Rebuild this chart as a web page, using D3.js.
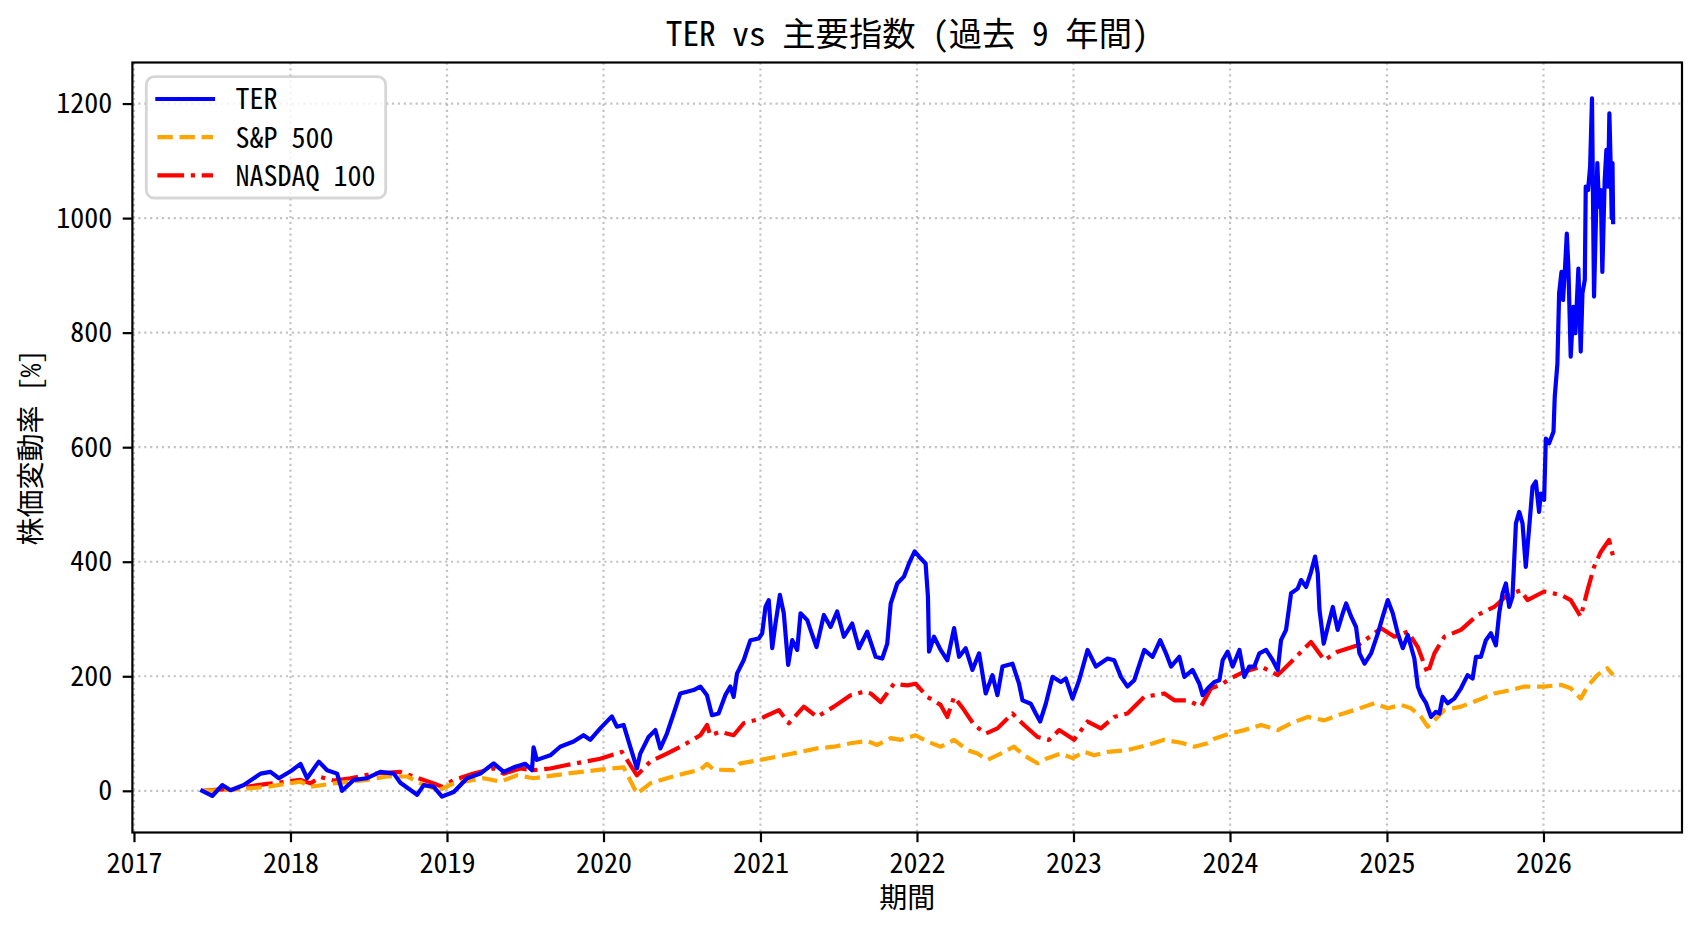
<!DOCTYPE html>
<html>
<head>
<meta charset="utf-8">
<script src="https://cdn.jsdelivr.net/npm/d3@7"></script>
<style>
  html, body { margin: 0; padding: 0; background: #fff; }
  svg text {
    font-family: "Noto Sans CJK JP", "Noto Sans", sans-serif;
    font-feature-settings: "hwid" 1;
  }
</style>
</head>
<body>
<svg id="chart"></svg>
<script>
// ── Data (decimal year, % change since start) ───────────────────────────────
const terSeries = [
  [2017.436, 0], [2017.500, -9], [2017.564, 10], [2017.617, 1], [2017.702, 10],
  [2017.809, 30], [2017.872, 33], [2017.926, 22], [2018.011, 36], [2018.064, 47],
  [2018.106, 22], [2018.181, 51], [2018.234, 36], [2018.298, 30], [2018.330, 0],
  [2018.404, 19], [2018.489, 22], [2018.574, 33], [2018.660, 30], [2018.702, 14],
  [2018.809, -7], [2018.851, 10], [2018.915, 7], [2018.968, -10], [2019.043, -2],
  [2019.128, 22], [2019.213, 30], [2019.298, 48], [2019.362, 33], [2019.436, 42],
  [2019.500, 47], [2019.543, 36], [2019.553, 76], [2019.574, 54], [2019.660, 62],
  [2019.723, 77], [2019.809, 86], [2019.872, 97], [2019.915, 89], [2019.979, 109],
  [2020.053, 130], [2020.085, 112], [2020.128, 115], [2020.170, 77], [2020.213, 39],
  [2020.234, 65], [2020.287, 94], [2020.330, 106], [2020.362, 74], [2020.404, 100],
  [2020.447, 135], [2020.489, 170], [2020.574, 176], [2020.617, 182], [2020.659, 167],
  [2020.691, 132], [2020.733, 135], [2020.776, 167], [2020.808, 182], [2020.829, 164],
  [2020.851, 205], [2020.893, 228], [2020.936, 263], [2020.989, 266], [2021.011, 275],
  [2021.032, 321], [2021.053, 333], [2021.075, 249], [2021.096, 292], [2021.124, 342],
  [2021.149, 310], [2021.177, 220], [2021.203, 263], [2021.235, 246], [2021.256, 310],
  [2021.299, 298], [2021.320, 281], [2021.358, 251], [2021.405, 307], [2021.448, 286],
  [2021.490, 313], [2021.533, 269], [2021.586, 292], [2021.629, 249], [2021.682, 278],
  [2021.736, 234], [2021.778, 231], [2021.810, 257], [2021.832, 327], [2021.874, 362],
  [2021.917, 374], [2021.949, 397], [2021.985, 418], [2022.023, 406], [2022.055, 397],
  [2022.070, 339], [2022.077, 243], [2022.109, 269], [2022.151, 246], [2022.194, 228],
  [2022.237, 284], [2022.269, 234], [2022.311, 249], [2022.354, 211], [2022.397, 240],
  [2022.439, 170], [2022.482, 202], [2022.514, 167], [2022.546, 217], [2022.610, 222],
  [2022.652, 187], [2022.674, 158], [2022.727, 152], [2022.759, 135], [2022.787, 121],
  [2022.823, 152], [2022.866, 199], [2022.919, 190], [2022.951, 196], [2022.994, 161],
  [2023.036, 193], [2023.090, 246], [2023.143, 217], [2023.218, 231], [2023.260, 228],
  [2023.303, 199], [2023.345, 182], [2023.388, 193], [2023.452, 246], [2023.505, 234],
  [2023.554, 263], [2023.591, 240], [2023.623, 217], [2023.676, 234], [2023.708, 199],
  [2023.761, 211], [2023.804, 187], [2023.825, 167], [2023.858, 179], [2023.900, 190],
  [2023.932, 193], [2023.953, 228], [2023.985, 243], [2024.017, 217], [2024.060, 246],
  [2024.091, 199], [2024.123, 217], [2024.155, 217], [2024.187, 240], [2024.230, 246],
  [2024.272, 228], [2024.304, 211], [2024.325, 263], [2024.357, 281], [2024.389, 345],
  [2024.431, 353], [2024.453, 368], [2024.485, 356], [2024.516, 382], [2024.542, 409],
  [2024.559, 380], [2024.570, 316], [2024.597, 257], [2024.623, 286], [2024.655, 321],
  [2024.686, 281], [2024.718, 310], [2024.740, 327], [2024.772, 304], [2024.803, 286],
  [2024.825, 240], [2024.857, 222], [2024.899, 240], [2024.942, 275], [2024.973, 304],
  [2025.005, 333], [2025.037, 310], [2025.069, 275], [2025.101, 249], [2025.133, 272],
  [2025.175, 231], [2025.197, 182], [2025.218, 167], [2025.250, 153], [2025.282, 129],
  [2025.313, 138], [2025.335, 135], [2025.356, 164], [2025.388, 153], [2025.430, 161],
  [2025.473, 179], [2025.515, 202], [2025.547, 196], [2025.569, 234], [2025.600, 234],
  [2025.632, 263], [2025.664, 275], [2025.696, 254], [2025.717, 310], [2025.739, 345],
  [2025.760, 362], [2025.781, 321], [2025.802, 339], [2025.824, 467], [2025.845, 487],
  [2025.866, 467], [2025.887, 391], [2025.909, 461], [2025.930, 531], [2025.951, 540],
  [2025.972, 487], [2025.983, 519], [2026.004, 508], [2026.015, 615], [2026.036, 607],
  [2026.064, 627], [2026.072, 688], [2026.089, 746], [2026.100, 869], [2026.115, 906],
  [2026.125, 857], [2026.138, 915], [2026.149, 973], [2026.159, 915], [2026.174, 758],
  [2026.191, 845], [2026.204, 799], [2026.223, 912], [2026.238, 767], [2026.249, 869],
  [2026.264, 892], [2026.270, 1055], [2026.285, 1049], [2026.298, 1090], [2026.310, 1209],
  [2026.319, 962], [2026.323, 863], [2026.334, 985], [2026.344, 1096], [2026.355, 1020],
  [2026.366, 1049], [2026.376, 906], [2026.391, 1066], [2026.402, 1119], [2026.413, 1055],
  [2026.421, 1183], [2026.430, 1084], [2026.436, 1000], [2026.441, 1096], [2026.445, 993]
];

const spxSeries = [
  [2017.436, 0], [2017.638, 2], [2017.851, 7], [2018.064, 16], [2018.128, 7],
  [2018.277, 13], [2018.489, 19], [2018.617, 25], [2018.745, 25], [2018.830, 13],
  [2018.947, 1], [2019.043, 13], [2019.234, 22], [2019.340, 16], [2019.447, 27],
  [2019.553, 22], [2019.766, 30], [2019.979, 37], [2020.128, 41], [2020.213, -5],
  [2020.298, 13], [2020.404, 22], [2020.511, 30], [2020.617, 37], [2020.660, 47],
  [2020.702, 37], [2020.829, 36], [2020.872, 48], [2021.000, 54], [2021.149, 62],
  [2021.256, 68], [2021.362, 74], [2021.469, 77], [2021.576, 83], [2021.682, 87],
  [2021.746, 80], [2021.832, 92], [2021.896, 89], [2021.991, 97], [2022.066, 86],
  [2022.151, 77], [2022.237, 89], [2022.322, 71], [2022.386, 65], [2022.450, 54],
  [2022.535, 65], [2022.620, 77], [2022.684, 62], [2022.770, 48], [2022.834, 57],
  [2022.919, 65], [2022.994, 57], [2023.068, 68], [2023.132, 62], [2023.218, 68],
  [2023.345, 71], [2023.473, 80], [2023.580, 89], [2023.687, 84], [2023.772, 77],
  [2023.857, 83], [2023.900, 91], [2024.000, 100], [2024.091, 106], [2024.198, 115],
  [2024.304, 106], [2024.389, 118], [2024.495, 129], [2024.601, 123], [2024.686, 132],
  [2024.793, 141], [2024.857, 147], [2024.920, 153], [2025.005, 144], [2025.090, 150],
  [2025.154, 144], [2025.218, 129], [2025.260, 112], [2025.303, 123], [2025.367, 141],
  [2025.473, 147], [2025.579, 158], [2025.685, 170], [2025.792, 176], [2025.877, 182],
  [2026.004, 182], [2026.111, 185], [2026.174, 179], [2026.238, 161], [2026.281, 182],
  [2026.344, 202], [2026.408, 214], [2026.445, 202]
];

const ndxSeries = [
  [2017.436, 0], [2017.638, 4], [2017.851, 12], [2018.064, 19], [2018.128, 13],
  [2018.191, 24], [2018.277, 18], [2018.383, 22], [2018.532, 30], [2018.702, 33],
  [2018.787, 25], [2018.915, 13], [2018.968, 7], [2019.043, 19], [2019.170, 30],
  [2019.298, 39], [2019.362, 30], [2019.468, 39], [2019.553, 36], [2019.660, 39],
  [2019.766, 45], [2019.979, 56], [2020.117, 68], [2020.213, 27], [2020.298, 51],
  [2020.404, 65], [2020.511, 80], [2020.617, 97], [2020.660, 115], [2020.680, 97],
  [2020.744, 103], [2020.829, 97], [2020.893, 118], [2021.000, 126], [2021.117, 141],
  [2021.181, 118], [2021.277, 147], [2021.362, 129], [2021.469, 147], [2021.576, 167],
  [2021.661, 173], [2021.704, 170], [2021.768, 155], [2021.853, 187], [2021.938, 184],
  [2021.991, 187], [2022.066, 164], [2022.151, 150], [2022.194, 129], [2022.237, 164],
  [2022.301, 141], [2022.365, 115], [2022.439, 100], [2022.514, 109], [2022.610, 135],
  [2022.684, 115], [2022.770, 94], [2022.844, 89], [2022.908, 106], [2023.004, 89],
  [2023.090, 121], [2023.175, 109], [2023.260, 129], [2023.345, 135], [2023.452, 164],
  [2023.580, 170], [2023.644, 158], [2023.729, 158], [2023.814, 147], [2023.879, 179],
  [2023.943, 185], [2024.000, 196], [2024.091, 208], [2024.198, 217], [2024.304, 202],
  [2024.389, 225], [2024.516, 260], [2024.601, 228], [2024.686, 243], [2024.814, 254],
  [2024.920, 275], [2024.963, 284], [2025.048, 269], [2025.133, 278], [2025.197, 251],
  [2025.260, 205], [2025.303, 240], [2025.367, 269], [2025.473, 281], [2025.579, 307],
  [2025.685, 321], [2025.770, 342], [2025.855, 350], [2025.898, 333], [2026.004, 348],
  [2026.111, 342], [2026.174, 333], [2026.238, 304], [2026.281, 350], [2026.323, 391],
  [2026.366, 417], [2026.419, 438], [2026.445, 409]
];

const seriesNames = ['TER', 'S&P 500', 'NASDAQ 100'];
const yTicks = [0, 200, 400, 600, 800, 1000, 1200];
const titleText = 'TER vs 主要指数 (過去 9 年間)';
const xLabelText = '期間';
const yLabelText = '株価変動率 [%]';

// ── Layout ──────────────────────────────────────────────────────────────────
const W = 1702, H = 932;
const margin = { top: 62.5, right: 20, bottom: 99.5, left: 132.4 };
const innerW = W - margin.left - margin.right;
const innerH = H - margin.top - margin.bottom;
const fontPx = 28;
const tickLen = 9.7;

// decimal year -> Date
const toDate = t => {
  const y = Math.floor(t);
  const a = new Date(y, 0, 1), b = new Date(y + 1, 0, 1);
  return new Date(+a + (t - y) * (b - a));
};

const styles = [
  { data: terSeries, color: '#0000ff', dash: null },
  { data: spxSeries, color: '#ffa500', dash: '15.4,6.7' },
  { data: ndxSeries, color: '#ff0000', dash: '26.7,6.7,4.2,6.7' }
];

const svg = d3.select('#chart')
  .attr('width', W)
  .attr('height', H);

svg.append('rect').attr('width', W).attr('height', H).attr('fill', '#fff');

const x = d3.scaleTime()
  .domain([toDate(2016.99), toDate(2026.885)])
  .range([0, innerW]);

const y = d3.scaleLinear()
  .domain([-72.8, 1271.7])
  .range([innerH, 0]);

const g = svg.append('g')
  .attr('transform', `translate(${margin.left},${margin.top})`);

// ── Grid ────────────────────────────────────────────────────────────────────
const xTicks = d3.timeYear.range(new Date(2017, 0, 1), new Date(2027, 0, 1));

g.append('g').selectAll('line.vg')
  .data(xTicks)
  .join('line')
  .attr('x1', d => x(d)).attr('x2', d => x(d))
  .attr('y1', 0).attr('y2', innerH)
  .attr('stroke', '#b0b0b0')
  .attr('stroke-opacity', 0.75)
  .attr('stroke-width', 2.2)
  .attr('stroke-dasharray', '2.2,3.7');

g.append('g').selectAll('line.hg')
  .data(yTicks)
  .join('line')
  .attr('x1', 0).attr('x2', innerW)
  .attr('y1', d => y(d)).attr('y2', d => y(d))
  .attr('stroke', '#b0b0b0')
  .attr('stroke-opacity', 0.75)
  .attr('stroke-width', 2.2)
  .attr('stroke-dasharray', '2.2,3.7');

// ── Lines ───────────────────────────────────────────────────────────────────
svg.append('defs').append('clipPath').attr('id', 'plot-clip')
  .append('rect').attr('width', innerW).attr('height', innerH);

const line = d3.line()
  .x(d => x(toDate(d[0])))
  .y(d => y(d[1]));

const lines = g.append('g').attr('clip-path', 'url(#plot-clip)');
for (const s of styles.slice().reverse()) {
  lines.append('path')
    .datum(s.data)
    .attr('d', line)
    .attr('fill', 'none')
    .attr('stroke', s.color)
    .attr('stroke-width', 4.2)
    .attr('stroke-linejoin', 'round')
    .attr('stroke-linecap', s.dash ? 'butt' : 'square')
    .attr('stroke-dasharray', s.dash);
}

// ── Axes ────────────────────────────────────────────────────────────────────
const xAxis = g.append('g')
  .attr('transform', `translate(0,${innerH})`)
  .call(d3.axisBottom(x).tickValues(xTicks).tickFormat(d3.timeFormat('%Y'))
    .tickSize(tickLen).tickPadding(10.5));

const yAxis = g.append('g')
  .call(d3.axisLeft(y).tickValues(yTicks).tickFormat(d3.format('d'))
    .tickSize(tickLen).tickPadding(10.5));

for (const ax of [xAxis, yAxis]) {
  ax.select('.domain').remove();
  ax.selectAll('.tick line').attr('stroke', '#000').attr('stroke-width', 2.2);
  ax.selectAll('.tick text')
    .attr('fill', '#000')
    .attr('font-size', fontPx + 'px')
    .style('font-family', '"Noto Sans CJK JP", sans-serif');
}

// Frame
g.append('rect')
  .attr('width', innerW)
  .attr('height', innerH)
  .attr('fill', 'none')
  .attr('stroke', '#000')
  .attr('stroke-width', 2.2);

// ── Titles ──────────────────────────────────────────────────────────────────
svg.append('text')
  .attr('x', margin.left + innerW / 2)
  .attr('y', 46)
  .attr('text-anchor', 'middle')
  .attr('font-size', '33.3px')
  .attr('fill', '#000')
  .text(titleText);

svg.append('text')
  .attr('x', margin.left + innerW / 2)
  .attr('y', 908)
  .attr('text-anchor', 'middle')
  .attr('font-size', fontPx + 'px')
  .attr('fill', '#000')
  .text(xLabelText);

svg.append('text')
  .attr('transform', `translate(40.5,${margin.top + innerH / 2}) rotate(-90)`)
  .attr('text-anchor', 'middle')
  .attr('font-size', fontPx + 'px')
  .attr('fill', '#000')
  .text(yLabelText);

// ── Legend ──────────────────────────────────────────────────────────────────
const legend = svg.append('g').attr('transform', 'translate(146.3,76.7)');

legend.append('rect')
  .attr('width', 239.4)
  .attr('height', 121.3)
  .attr('rx', 8)
  .attr('fill', '#fff')
  .attr('fill-opacity', 0.8)
  .attr('stroke', '#cccccc')
  .attr('stroke-opacity', 0.8)
  .attr('stroke-width', 2.8);

styles.forEach((s, i) => {
  const cy = 22.3 + i * 38.2;
  legend.append('line')
    .attr('x1', 11.1).attr('x2', 66.7)
    .attr('y1', cy).attr('y2', cy)
    .attr('stroke', s.color)
    .attr('stroke-width', 4.2)
    .attr('stroke-linecap', s.dash ? 'butt' : 'square')
    .attr('stroke-dasharray', s.dash);
  legend.append('text')
    .attr('x', 89.1)
    .attr('y', cy + 10.4)
    .attr('font-size', fontPx + 'px')
    .attr('fill', '#000')
    .text(seriesNames[i]);
});
</script>
</body>
</html>
